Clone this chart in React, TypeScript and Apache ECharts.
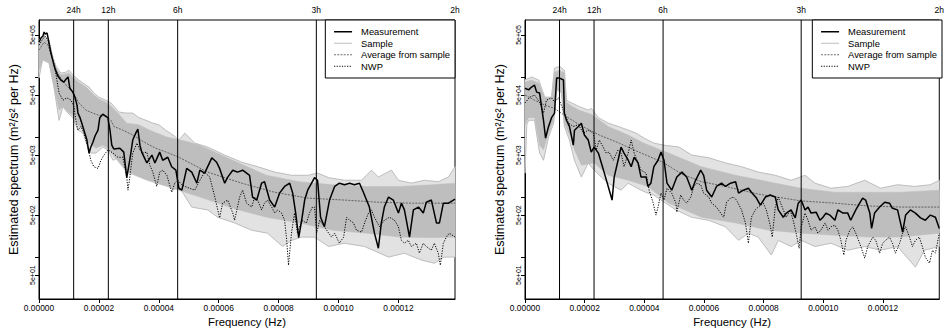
import React, { useEffect, useRef } from "react";
import * as echarts from "echarts";

const FONT = "'Liberation Sans', Arial, Helvetica, sans-serif";
const F_MAX = 1 / 7200; // Hz (2h period)
const Y_MIN = 20;
const Y_MAX = 8.9e5;
const SAMPLE_GREY = "#bebebe";
const SAMPLE_EDGE_FILL = "#e2e2e2";

const xTickValues = [0, 0.00002, 0.00004, 0.00006, 0.00008, 0.0001, 0.00012];
const periodHours = [24, 12, 6, 3, 2];
const periodLabels = ["24h", "12h", "6h", "3h", "2h"];
const yTickValues = [5e1, 1e2, 5e2, 1e3, 5e3, 1e4, 5e4, 1e5, 5e5];
const yLabelValues = [5e1, 5e2, 5e3, 5e4, 5e5];
const yLabelTexts = ["5e+01", "5e+02", "5e+03", "5e+04", "5e+05"];
const legendNames = ["Measurement", "Sample", "Average from sample", "NWP"];

// ---- data: [frequency in µHz, spectrum in m²/s² per Hz] ----
// Left panel
const leftMeasurement: number[][] = [
  [0, 3.8e5], [0.7, 4.5e5], [1.3, 4.8e5], [1.7, 5.6e5], [2.0, 5.2e5], [2.7, 5.4e5], [3.3, 3.8e5],
  [4.0, 2.5e5], [4.7, 1.8e5], [5.3, 1.4e5], [6.3, 1.04e5], [7.3, 8.9e4], [8.3, 8.2e4], [9.0, 9.2e4],
  [9.7, 1.0e5], [10.3, 6.5e4], [11.3, 5.6e4], [12.0, 4.6e4], [12.7, 3.4e4], [13.0, 2.5e4], [13.7, 2.1e4],
  [14.3, 1.7e4], [15.0, 1.3e4], [16.0, 8.9e3], [16.7, 5.4e3], [17.3, 6.8e3], [18.0, 8.2e3], [18.7, 1.04e4],
  [19.7, 1.3e4], [20.3, 2.1e4], [21.3, 2.4e4], [22.3, 2.2e4], [23.0, 2.1e4], [23.7, 1.3e4], [24.3, 7.3e3],
  [25.0, 6.3e3], [27.0, 6.5e3], [28.3, 5.6e3], [29.3, 2.1e3], [30.3, 4.1e3], [31.3, 8.9e3], [32.3, 1.16e4],
  [33.0, 1.36e4], [33.7, 7.3e3], [34.3, 5.6e3], [36.0, 3.7e3], [37.7, 5.0e3], [38.7, 3.7e3], [40.3, 5.6e3],
  [41.3, 4.1e3], [43.0, 4.6e3], [44.3, 3.2e3], [45.7, 2.8e3], [46.7, 1.4e3], [47.7, 1.3e3], [49.3, 3.0e3],
  [51.0, 2.6e3], [52.7, 1.7e3], [53.7, 2.8e3], [55.3, 2.5e3], [57.7, 4.5e3], [59.3, 3.8e3], [60.3, 3.0e3],
  [62.0, 1.7e3], [63.0, 2.15e3], [64.7, 2.8e3], [66.3, 2.6e3], [68.0, 2.8e3], [70.3, 2.3e3], [71.3, 1.0e3],
  [72.7, 890], [74.3, 1.7e3], [75.3, 1.8e3], [77.0, 890], [78.7, 680], [80.3, 1.16e3], [82.0, 1.5e3],
  [83.7, 1.7e3], [84.7, 1.16e3], [85.7, 540], [86.7, 210], [87.7, 410], [88.7, 890], [89.7, 1.3e3],
  [91.0, 1.7e3], [92.0, 2.1e3], [93.0, 1.9e3], [94.0, 460], [95.3, 320], [97.0, 890], [98.7, 1.5e3],
  [100.3, 1.7e3], [102.0, 1.6e3], [103.7, 1.7e3], [105.3, 1.6e3], [107.0, 1.7e3], [108.3, 1.2e3],
  [110.3, 680], [112.0, 250], [113.3, 140], [114.3, 370], [115.3, 680], [116.7, 1.0e3], [118.3, 890],
  [120.0, 540], [121.0, 790], [122.0, 610], [123.7, 215], [125.0, 610], [126.7, 680], [128.3, 540],
  [129.3, 820], [131.0, 890], [132.7, 370], [133.7, 370], [135.0, 790], [136.7, 790], [138.9, 920],
];
const leftNWP: number[][] = [
  [0, 3.4e5], [1.0, 4.1e5], [2.0, 4.8e5], [3.0, 4.1e5], [3.7, 2.8e5], [4.7, 1.9e5], [5.7, 1.08e5],
  [6.7, 5.4e4], [8.0, 4.1e4], [9.3, 4.5e4], [10.7, 4.1e4], [11.7, 3.2e4], [12.3, 1.9e4], [13.0, 1.3e4],
  [14.0, 1.5e4], [15.0, 1.16e4], [16.3, 6.8e3], [17.3, 4.1e3], [18.3, 3.2e3], [19.7, 3.0e3], [20.7, 4.1e3],
  [21.7, 5.0e3], [23.0, 6.1e3], [24.7, 5.4e3], [26.3, 4.6e3], [28.0, 4.6e3], [29.3, 2.15e3], [29.7, 1.3e3],
  [30.3, 2.1e3], [31.3, 5.4e3], [32.7, 7.9e3], [33.7, 6.1e3], [34.7, 5.4e3], [36.0, 5.6e3], [37.0, 3.4e3],
  [38.0, 2.6e3], [39.3, 1.5e3], [40.3, 2.6e3], [41.3, 2.8e3], [42.7, 2.3e3], [44.3, 1.2e3], [45.3, 1.7e3],
  [46.3, 1.9e3], [47.7, 1.6e3], [48.7, 1.5e3], [52.0, 1.3e3], [53.7, 1.9e3], [55.3, 2.6e3], [57.0, 2.15e3],
  [58.7, 1.0e3], [60.3, 450], [61.3, 790], [63.0, 890], [64.7, 540], [65.3, 410], [67.0, 1.0e3],
  [68.0, 1.3e3], [69.3, 790], [71.0, 680], [72.0, 1.0e3], [73.0, 890], [74.3, 610], [75.3, 790],
  [76.3, 890], [77.7, 680], [78.7, 540], [79.7, 610], [81.0, 540], [82.0, 410], [82.7, 190], [83.3, 73],
  [84.3, 250], [85.3, 540], [86.3, 250], [87.7, 410], [89.3, 370], [90.3, 540], [91.3, 680], [92.0, 680],
  [92.7, 250], [93.7, 410], [95.3, 320], [96.7, 250], [97.7, 215], [98.7, 250], [100.3, 170], [101.7, 215],
  [102.7, 460], [103.7, 410], [105.0, 370], [106.0, 280], [107.7, 260], [108.7, 370], [110.0, 540],
  [111.0, 610], [112.0, 460], [113.7, 320], [115.3, 410], [117.0, 460], [118.7, 410], [120.0, 320],
  [121.0, 190], [122.0, 170], [123.3, 190], [124.3, 150], [126.0, 170], [127.0, 116], [128.3, 170],
  [129.3, 150], [131.0, 130], [132.0, 170], [133.3, 116], [134.0, 73], [135.0, 170], [136.0, 215],
  [137.0, 250], [138.9, 215],
];
const leftAverage: number[][] = [
  [0, 2.8e5], [1.7, 3.8e5], [3.0, 3.4e5], [4.3, 2.1e5], [6.0, 1.2e5], [7.7, 8.9e4], [9.3, 7.1e4],
  [11.3, 5.6e4], [13.3, 3.7e4], [15.7, 2.8e4], [18.0, 2.5e4], [20.0, 2.3e4], [22.3, 2.3e4], [24.0, 1.9e4],
  [25.0, 1.5e4], [28.0, 1.3e4], [31.3, 1.08e4], [35.7, 7.9e3], [39.0, 6.5e3], [43.3, 5.4e3], [46.7, 4.6e3],
  [56.3, 2.6e3], [67.7, 1.7e3], [78.7, 1.2e3], [89.7, 960], [102.0, 890], [113.3, 820], [124.3, 790],
  [138.9, 790],
];
// outer envelope of the sample spectra
const leftSampleUpper: number[][] = [
  [0, 4.1e5], [1.7, 5.0e5], [3.3, 4.1e5], [4.7, 2.1e5], [5.7, 1.5e5], [7.3, 1.16e5], [9.0, 1.2e5],
  [10.0, 1.3e5], [11.3, 1.08e5], [13.3, 8.9e4], [15.7, 7.3e4], [16.7, 6.8e4], [18.3, 5.4e4], [20.0, 4.6e4],
  [22.3, 4.1e4], [24.0, 3.7e4], [26.7, 2.6e4], [29.0, 2.5e4], [31.3, 2.5e4], [33.3, 2.1e4], [35.7, 1.9e4],
  [38.0, 1.7e4], [40.0, 1.6e4], [42.3, 1.3e4], [44.7, 1.08e4], [46.7, 8.9e3], [48.7, 1.16e4], [52.0, 7.9e3],
  [56.3, 6.8e3], [62.0, 5.0e3], [67.7, 3.8e3], [73.0, 3.2e3], [78.7, 2.6e3], [84.3, 2.3e3], [89.7, 2.3e3],
  [93.0, 2.5e3], [96.7, 2.1e3], [102.0, 1.9e3], [107.7, 1.9e3], [111.0, 2.8e3], [113.3, 2.15e3],
  [117.7, 2.8e3], [120.0, 1.9e3], [124.3, 1.7e3], [128.7, 1.9e3], [133.3, 1.8e3], [136.7, 2.15e3],
  [138.9, 3.2e3],
];
const leftSampleLower: number[][] = [
  [0, 9.6e4], [1.3, 2.1e5], [3.3, 1.9e5], [5.0, 6.8e4], [6.7, 1.9e4], [8.0, 3.2e4], [9.7, 2.5e4],
  [11.3, 2.1e4], [13.0, 1.3e4], [14.7, 1.16e4], [16.3, 6.8e3], [17.3, 5.4e3], [19.0, 5.4e3], [21.3, 6.8e3],
  [23.0, 6.1e3], [24.7, 4.1e3], [26.7, 4.6e3], [29.0, 3.7e3], [31.3, 4.1e3], [33.3, 3.2e3], [35.7, 2.15e3],
  [38.0, 2.5e3], [40.0, 1.9e3], [42.3, 1.7e3], [44.7, 1.3e3], [46.7, 1.5e3], [51.0, 680], [56.3, 610],
  [59.7, 460], [65.3, 370], [71.0, 280], [76.3, 250], [81.3, 150], [84.3, 190], [87.7, 215], [92.0, 215],
  [96.7, 150], [102.0, 170], [108.7, 150], [116.7, 100], [122.0, 116], [127.7, 89], [132.0, 79],
  [135.3, 100], [138.9, 100],
];
// dense core of the sample spectra
const leftCoreUpper: number[][] = [
  [0, 3.8e5], [1.7, 4.6e5], [3.3, 3.8e5], [4.7, 2.1e5], [5.7, 1.4e5], [7.3, 1.08e5], [9.0, 1.12e5],
  [10.0, 1.16e5], [11.3, 1.0e5], [13.3, 8.2e4], [15.7, 6.8e4], [18.3, 5.0e4], [20.0, 4.3e4], [22.3, 3.8e4],
  [24.0, 3.3e4], [26.7, 2.4e4], [29.3, 1.7e4], [33.3, 1.6e4], [37.0, 1.3e4], [42.7, 1.0e4], [48.7, 8.6e3],
  [53.7, 7.3e3], [64.7, 4.1e3], [76.0, 2.3e3], [87.0, 1.8e3], [98.0, 1.6e3], [109.3, 1.5e3], [120.3, 1.5e3],
  [131.3, 1.6e3], [138.9, 1.7e3],
];
const leftCoreLower: number[][] = [
  [0, 1.3e5], [1.3, 1.9e5], [3.3, 1.7e5], [5.0, 6.8e4], [6.7, 2.8e4], [8.0, 3.2e4], [9.7, 2.6e4],
  [11.3, 2.3e4], [13.0, 1.6e4], [14.7, 1.3e4], [16.3, 8.2e3], [19.0, 6.5e3], [21.3, 7.3e3], [23.0, 6.5e3],
  [24.7, 5.0e3], [29.3, 2.6e3], [36.0, 1.9e3], [42.7, 1.5e3], [53.7, 1.0e3], [64.7, 650], [76.0, 460],
  [87.0, 370], [98.0, 280], [109.3, 250], [120.3, 215], [131.3, 210], [138.9, 215],
];

// Right panel
const rightMeasurement: number[][] = [
  [0, 6.5e4], [1.2, 6.1e4], [2.2, 6.8e4], [3.2, 7.3e4], [3.9, 5.6e4], [4.9, 5.4e4], [6.2, 1.9e4],
  [6.9, 9.6e3], [7.9, 1.5e4], [8.9, 2.1e4], [9.9, 2.5e4], [10.6, 9.6e4], [11.6, 9.6e4], [12.9, 8.9e4],
  [13.2, 2.5e4], [13.9, 1.9e4], [14.9, 1.5e4], [16.2, 7.3e3], [16.6, 1.3e4], [17.9, 1.5e4], [18.9, 1.7e4],
  [19.9, 1.08e4], [21.2, 8.9e3], [22.2, 5.6e3], [23.2, 6.8e3], [24.6, 5.4e3], [25.6, 3.7e3], [26.6, 2.5e3],
  [27.9, 1.5e3], [29.2, 890], [29.9, 2.15e3], [31.2, 4.1e3], [32.2, 6.8e3], [33.2, 5.4e3], [34.6, 4.1e3],
  [35.6, 3.2e3], [36.6, 4.6e3], [37.9, 3.7e3], [38.9, 2.15e3], [40.6, 2.15e3], [41.2, 1.5e3], [42.2, 1.7e3],
  [43.2, 3.2e3], [44.6, 4.1e3], [45.6, 5.6e3], [46.6, 4.1e3], [47.6, 1.7e3], [49.2, 1.3e3], [50.9, 2.15e3],
  [52.6, 2.6e3], [54.2, 2.15e3], [55.9, 1.3e3], [57.2, 1.9e3], [58.9, 2.8e3], [59.9, 2.3e3], [60.9, 1.3e3],
  [62.6, 1.0e3], [64.2, 1.5e3], [65.9, 1.7e3], [67.2, 1.5e3], [68.9, 1.7e3], [70.6, 1.8e3], [71.6, 1.16e3],
  [73.2, 1.3e3], [74.9, 1.4e3], [75.9, 1.2e3], [77.6, 960], [78.9, 730], [80.6, 1.0e3], [82.2, 1.08e3],
  [83.9, 1.0e3], [84.9, 610], [86.6, 460], [87.6, 540], [89.2, 610], [90.6, 450], [91.6, 790], [92.6, 890],
  [93.9, 610], [94.9, 680], [95.9, 540], [97.6, 560], [98.9, 410], [99.9, 460], [100.9, 540], [102.2, 500],
  [103.9, 410], [104.9, 610], [106.6, 540], [108.2, 540], [109.2, 410], [110.9, 610], [112.2, 790],
  [113.2, 960], [114.2, 890], [115.6, 540], [116.2, 300], [117.2, 540], [118.9, 680], [120.6, 820],
  [122.2, 790], [123.2, 650], [124.9, 610], [126.6, 260], [127.6, 500], [129.2, 610], [130.9, 540],
  [132.6, 450], [134.2, 410], [135.9, 500], [137.6, 460], [138.9, 300],
];
const rightNWP: number[][] = [
  [0, 3.7e4], [1.6, 4.6e4], [3.2, 5.0e4], [4.9, 3.8e4], [6.2, 2.5e4], [7.2, 4.1e4], [8.9, 4.5e4],
  [9.9, 3.8e4], [11.2, 4.5e4], [11.9, 3.7e4], [13.2, 2.5e4], [14.6, 1.7e4], [16.2, 1.5e4], [17.9, 1.6e4],
  [19.6, 1.16e4], [21.2, 1.3e4], [22.9, 1.16e4], [23.9, 6.1e3], [24.9, 8.9e3], [26.2, 6.8e3], [27.2, 5.4e3],
  [28.2, 5.6e3], [29.6, 4.1e3], [31.2, 6.1e3], [32.2, 5.4e3], [33.2, 3.2e3], [34.6, 5.4e3], [35.6, 8.9e3],
  [36.6, 5.4e3], [37.9, 3.7e3], [38.9, 2.8e3], [40.6, 2.5e3], [41.6, 1.3e3], [42.9, 820], [43.9, 500],
  [44.6, 680], [45.6, 1.16e3], [46.6, 890], [47.6, 1.4e3], [49.2, 1.16e3], [50.6, 790], [50.9, 560],
  [52.2, 1.08e3], [53.2, 890], [54.2, 790], [55.6, 1.0e3], [56.6, 1.5e3], [57.6, 1.7e3], [58.9, 1.6e3],
  [59.9, 1.16e3], [61.6, 1.0e3], [62.6, 790], [64.2, 680], [65.6, 540], [66.6, 460], [67.6, 820],
  [68.9, 960], [69.9, 1.0e3], [70.9, 890], [72.6, 610], [73.9, 370], [74.9, 170], [75.9, 460], [77.2, 610],
  [78.2, 680], [79.9, 790], [80.9, 610], [82.2, 340], [82.9, 215], [83.9, 680], [84.9, 1.0e3], [86.6, 610],
  [87.6, 460], [88.9, 610], [89.9, 410], [90.9, 250], [91.9, 140], [92.6, 320], [93.9, 540], [94.9, 410],
  [95.9, 280], [97.2, 320], [98.2, 250], [99.2, 280], [100.6, 370], [101.6, 280], [102.6, 320],
  [103.9, 340], [104.9, 280], [105.9, 190], [106.9, 108], [107.6, 190], [108.9, 280], [109.9, 320],
  [110.9, 250], [112.6, 150], [113.9, 96], [114.9, 150], [116.6, 215], [117.6, 190], [118.9, 116],
  [119.9, 170], [120.9, 190], [122.2, 215], [123.2, 170], [124.2, 116], [125.6, 170], [126.6, 250],
  [127.6, 320], [128.9, 215], [129.9, 150], [130.9, 190], [132.2, 215], [133.2, 150], [134.2, 100],
  [135.6, 79], [136.6, 130], [137.6, 116], [138.9, 250],
];
const rightAverage: number[][] = [
  [0, 5.0e4], [3.2, 4.1e4], [6.6, 3.4e4], [9.9, 3.0e4], [13.2, 2.3e4], [18.2, 1.6e4], [24.9, 1.08e4],
  [31.6, 7.9e3], [38.2, 5.6e3], [46.2, 3.8e3], [52.6, 2.4e3], [59.2, 1.8e3], [67.2, 1.5e3], [78.2, 1.12e3],
  [92.6, 860], [103.9, 790], [114.9, 710], [126.0, 680], [138.9, 680],
];
const rightSampleUpper: number[][] = [
  [0, 8.9e4], [2.2, 1.0e5], [4.6, 8.9e4], [6.6, 4.6e4], [8.9, 4.6e4], [9.9, 1.4e5], [11.6, 1.5e5],
  [13.2, 1.3e5], [13.9, 4.1e4], [15.6, 3.7e4], [18.2, 3.2e4], [21.2, 2.8e4], [22.2, 3.0e4], [24.6, 2.1e4],
  [27.9, 1.7e4], [31.2, 1.5e4], [34.6, 1.3e4], [37.2, 1.16e4], [39.9, 9.6e3], [43.2, 7.9e3], [46.6, 7.3e3],
  [51.6, 6.8e3], [55.9, 5.0e3], [61.6, 4.5e3], [67.2, 3.7e3], [72.6, 3.2e3], [78.2, 2.6e3], [83.9, 2.3e3],
  [89.2, 1.9e3], [93.9, 2.3e3], [97.2, 1.7e3], [102.6, 1.4e3], [108.2, 1.5e3], [113.9, 1.9e3],
  [119.2, 1.4e3], [124.9, 1.6e3], [130.6, 1.5e3], [135.9, 1.6e3], [138.9, 1.9e3],
];
const rightSampleLower: number[][] = [
  [0, 2.5e3], [0.6, 1.6e4], [1.2, 1.9e4], [3.2, 1.9e4], [4.9, 5.4e3], [6.2, 4.1e3], [7.9, 1.0e4],
  [9.6, 1.7e4], [10.6, 6.8e4], [12.2, 6.1e4], [13.2, 1.5e4], [14.9, 8.9e3], [16.6, 4.1e3], [18.9, 2.15e3],
  [21.2, 3.7e3], [23.2, 2.8e3], [25.6, 2.15e3], [27.9, 1.7e3], [29.9, 1.5e3], [32.2, 1.3e3], [34.6, 1.7e3],
  [36.6, 1.5e3], [38.9, 1.3e3], [41.2, 1.16e3], [43.2, 1.08e3], [45.6, 890], [50.6, 610], [55.9, 460],
  [61.6, 410], [67.2, 320], [71.6, 190], [74.9, 250], [78.2, 215], [82.6, 108], [84.9, 190], [89.2, 150],
  [92.6, 190], [97.2, 150], [102.6, 170], [108.2, 130], [113.9, 150], [119.2, 130], [124.9, 150],
  [130.9, 68], [133.9, 130], [138.9, 150],
];
const rightCoreUpper: number[][] = [
  [0, 8.2e4], [2.2, 8.9e4], [4.6, 7.9e4], [6.6, 4.5e4], [8.9, 4.5e4], [9.9, 1.2e5], [11.6, 1.3e5],
  [13.2, 1.16e5], [13.9, 3.8e4], [15.6, 3.3e4], [18.2, 2.8e4], [22.2, 2.4e4], [27.9, 1.5e4], [34.6, 1.08e4],
  [39.9, 7.9e3], [48.2, 5.4e3], [59.2, 3.2e3], [70.6, 2.3e3], [81.6, 1.8e3], [92.6, 1.4e3], [103.9, 1.2e3],
  [114.9, 1.2e3], [125.9, 1.2e3], [138.9, 1.3e3],
];
const rightCoreLower: number[][] = [
  [0, 1.6e4], [1.2, 2.1e4], [3.2, 2.1e4], [4.9, 7.3e3], [6.2, 6.1e3], [7.9, 1.16e4], [9.6, 1.9e4],
  [10.6, 6.1e4], [12.2, 5.4e4], [13.2, 1.7e4], [14.9, 1.08e4], [16.6, 6.1e3], [18.9, 3.4e3], [23.2, 3.7e3],
  [27.9, 2.3e3], [34.6, 1.9e3], [41.2, 1.5e3], [48.2, 790], [59.2, 460], [70.6, 370], [81.6, 280],
  [92.6, 250], [103.9, 230], [114.9, 215], [125.9, 215], [138.9, 250],
];

const panels = [
  {
    left: 39, width: 416, meas: leftMeasurement, nwp: leftNWP, avg: leftAverage,
    up: leftSampleUpper, lo: leftSampleLower, coreUp: leftCoreUpper, coreLo: leftCoreLower,
  },
  {
    left: 525, width: 417, meas: rightMeasurement, nwp: rightNWP, avg: rightAverage,
    up: rightSampleUpper, lo: rightSampleLower, coreUp: rightCoreUpper, coreLo: rightCoreLower,
  },
];

const CHART_W = 947;
const CHART_H = 334;
const GRID_TOP = 20;
const GRID_H = 279;

const lg = (v: number) => Math.log10(v);
const toPts = (a: number[][]) => a.map(([f, v]) => [f * 1e-6, lg(v)]);
const periodFreqs = periodHours.map((h) => 1 / (h * 3600));

function bandSeries(name: string, xi: number, yi: number, upper: number[][], lower: number[][], fill: string, z: number) {
  return {
    type: "custom", name, xAxisIndex: xi, yAxisIndex: yi, silent: true, z,
    renderItem: (_params: any, api: any) => {
      const pts = [...toPts(upper), ...toPts(lower).reverse()].map((pt) => api.coord(pt));
      return { type: "polygon", shape: { points: pts }, style: { fill, stroke: fill, lineWidth: 0.5 } };
    },
    data: [[F_MAX / 2, 3]],
  };
}

function buildOption() {
  const grid: any[] = [];
  const xAxis: any[] = [];
  const yAxis: any[] = [];
  const series: any[] = [];
  const legend: any[] = [];

  panels.forEach((p, g) => {
    grid.push({
      left: p.left, top: GRID_TOP, width: p.width, height: GRID_H,
      show: true, borderColor: "#000", borderWidth: 1, backgroundColor: "transparent",
    });
    xAxis.push({
      type: "value", gridIndex: g, position: "bottom", min: 0, max: F_MAX,
      axisLine: { show: true, onZero: false, lineStyle: { color: "#000", width: 1 } },
      axisTick: { show: true, inside: false, length: 4, customValues: xTickValues, lineStyle: { color: "#000" } },
      axisLabel: {
        customValues: xTickValues, formatter: (v: number) => v.toFixed(5),
        fontSize: 8.4, color: "#000", margin: 5, fontFamily: FONT,
      },
      splitLine: { show: false },
      name: "Frequency (Hz)", nameLocation: "middle", nameGap: 15,
      nameTextStyle: { fontSize: 11.3, color: "#000", fontFamily: FONT },
    });
    xAxis.push({
      type: "value", gridIndex: g, position: "top", min: 0, max: F_MAX,
      axisLine: { show: false }, axisTick: { show: false }, splitLine: { show: false },
      axisLabel: {
        customValues: periodFreqs,
        formatter: (v: number) => {
          const i = periodFreqs.findIndex((f) => Math.abs(f - v) < 1e-9);
          return i >= 0 ? periodLabels[i] : "";
        },
        fontSize: 8.5, color: "#000", margin: 6, fontFamily: FONT,
      },
    });
    yAxis.push({
      type: "value", gridIndex: g, min: lg(Y_MIN), max: lg(Y_MAX),
      axisLine: { show: true, onZero: false, lineStyle: { color: "#000", width: 1 } },
      axisTick: { show: true, inside: false, length: 4, customValues: yTickValues.map(lg), lineStyle: { color: "#000" } },
      axisLabel: {
        customValues: yLabelValues.map(lg), rotate: 90,
        formatter: (v: number) => {
          const i = yLabelValues.findIndex((m) => Math.abs(lg(m) - v) < 1e-6);
          return i >= 0 ? yLabelTexts[i] : "";
        },
        fontSize: 7, color: "#000", margin: 3.5, fontFamily: FONT,
      },
      splitLine: { show: false },
      name: "Estimated spectrum (m²/s² per Hz)", nameLocation: "middle", nameRotate: 90, nameGap: 19,
      nameTextStyle: { fontSize: 12.5, color: "#000", fontFamily: FONT },
    });

    const xi = 2 * g;
    series.push(bandSeries("Sample spread", xi, g, p.up, p.lo, SAMPLE_EDGE_FILL, 1));
    series.push(bandSeries("Sample core", xi, g, p.coreUp, p.coreLo, SAMPLE_GREY, 1));
    const lineBase = { type: "line", xAxisIndex: xi, yAxisIndex: g, showSymbol: false, symbol: "none", silent: true, clip: true };
    series.push({ ...lineBase, name: "Sample", z: 2, data: toPts(p.up), lineStyle: { color: SAMPLE_GREY, width: 1 }, itemStyle: { color: SAMPLE_GREY } });
    series.push({ ...lineBase, name: "Sample", z: 2, data: toPts(p.lo), lineStyle: { color: SAMPLE_GREY, width: 1 }, itemStyle: { color: SAMPLE_GREY } });
    series.push({ ...lineBase, name: "Average from sample", z: 3, data: toPts(p.avg), lineStyle: { color: "#4a4a4a", width: 0.8, type: [2, 1.2] }, itemStyle: { color: "#4a4a4a" } });
    series.push({ ...lineBase, name: "NWP", z: 4, data: toPts(p.nwp), lineStyle: { color: "#000", width: 1, type: [1.2, 1.4] }, itemStyle: { color: "#000" } });
    series.push({ ...lineBase, name: "Measurement", z: 5, data: toPts(p.meas), lineStyle: { color: "#000", width: 1.5 }, itemStyle: { color: "#000" } });
    // vertical reference lines at the 24h, 12h, 6h and 3h periods
    periodFreqs.slice(0, 4).forEach((f, k) => {
      series.push({
        ...lineBase, name: "Period " + periodLabels[k], z: 6,
        data: [[f, lg(Y_MIN)], [f, lg(Y_MAX)]],
        lineStyle: { color: "#000", width: 1 },
      });
    });

    legend.push({
      data: legendNames, orient: "vertical", selectedMode: false,
      right: CHART_W - (p.left + p.width), top: GRID_TOP,
      padding: [6, 5, 6, 8], itemWidth: 18, itemHeight: 11.5, itemGap: 0,
      borderColor: "#000", borderWidth: 1, backgroundColor: "#fff", borderRadius: 0,
      itemStyle: { color: "transparent", borderColor: "transparent", borderWidth: 0, opacity: 0 },
      lineStyle: { width: "inherit" },
      textStyle: { fontSize: 9.4, color: "#000", fontFamily: FONT, lineHeight: 11.5, padding: [0, 0, 0, 4] },
    });
  });

  return {
    animation: false,
    backgroundColor: "#fff",
    textStyle: { fontFamily: FONT },
    grid, xAxis, yAxis, series, legend,
  };
}

export default function App() {
  const ref = useRef<HTMLDivElement>(null);
  useEffect(() => {
    if (!ref.current) return;
    const chart = echarts.init(ref.current, undefined, { renderer: "svg" });
    chart.setOption(buildOption() as any);
    return () => chart.dispose();
  }, []);
  return (
    <div
      ref={ref}
      style={{ position: "absolute", left: 0, top: 0, width: CHART_W, height: CHART_H, background: "#fff" }}
    />
  );
}
